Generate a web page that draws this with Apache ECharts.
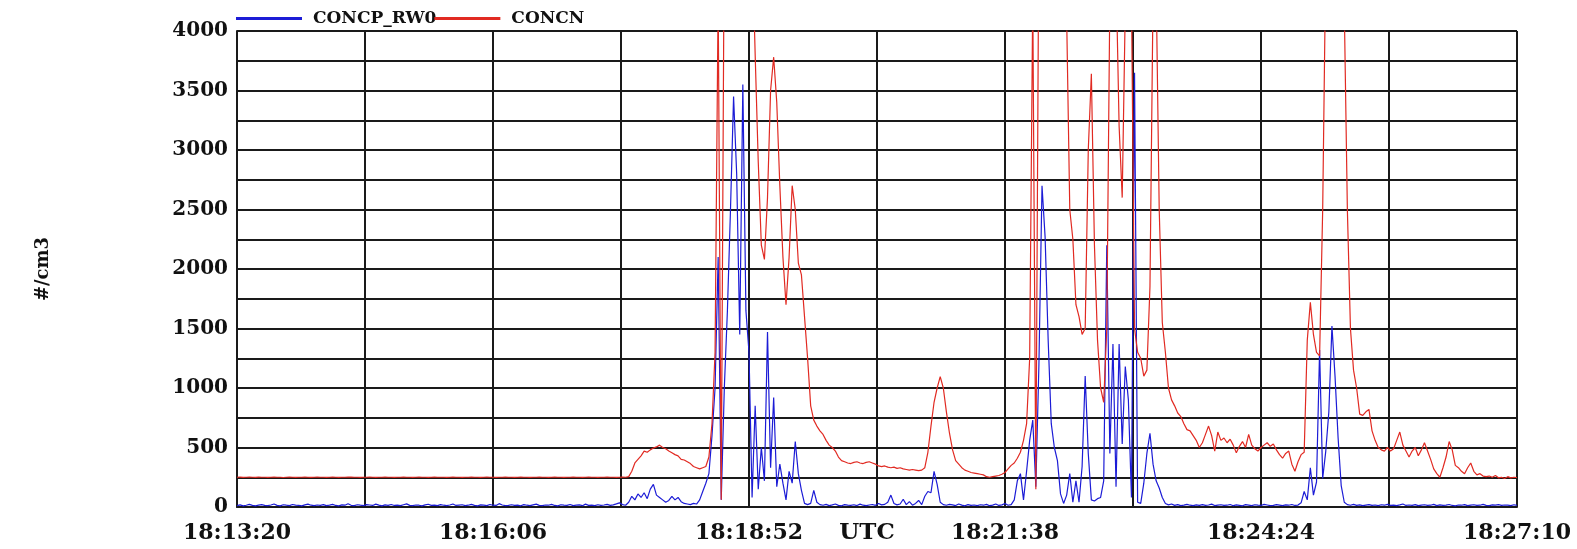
<!DOCTYPE html>
<html>
<head>
<meta charset="utf-8">
<script src="https://cdn.jsdelivr.net/npm/echarts@6/dist/echarts.min.js"></script>
<style>
  html, body { margin: 0; padding: 0; background: #ffffff; }
  #chart { width: 1577px; height: 549px; }
</style>
</head>
<body>
<div id="chart"></div>
<script>
// Particle concentrations, one sample every 2 s starting at 18:13:20 UTC
const seriesNames = ['CONCP_RW0', 'CONCN'];
const SAMPLE_STEP_S = 2;
const xTickLabels = ['18:13:20', '18:16:06', '18:18:52', '18:21:38', '18:24:24', '18:27:10'];
const xLabelEvery = 166; // seconds between labelled ticks

const concpRw0 = [
  12, 18, 10, 15, 22, 14, 9, 16, 20, 13,
  11, 17, 25, 14, 10, 19, 15, 12, 21, 16,
  13, 9, 18, 24, 15, 11, 17, 14, 20, 12,
  16, 22, 13, 10, 18, 15, 27, 14, 11, 19,
  15, 12, 20, 17, 13, 24, 16, 10, 18, 14,
  21, 13, 15, 11, 19, 26, 14, 12, 17, 15,
  10, 18, 23, 14, 16, 12, 20, 15, 11, 17,
  25, 13, 16, 19, 12, 15, 22, 14, 10, 18,
  16, 12, 21, 15, 13, 28, 17, 11, 14, 19,
  13, 16, 10, 20, 15, 12, 18, 24, 14, 11,
  17, 15, 22, 13, 10, 19, 16, 14, 21, 12,
  15, 18, 11, 24, 14, 16, 12, 19, 13, 17,
  22, 14, 18, 26, 35, 20, 15, 40, 90, 60,
  110, 80, 120, 70, 150, 190, 100, 80, 60, 40,
  55, 90, 60, 80, 45, 30, 25, 20, 30, 25,
  60, 130, 200, 280, 600, 1000, 2100, 60, 1000, 1650,
  2500, 3450, 2800, 1450, 3550, 1650, 1300, 80, 850, 150,
  500, 220, 1470, 330, 920, 170, 360, 200, 60, 300,
  200, 550, 280, 140, 30, 20, 30, 140, 40, 20,
  15, 22, 12, 18, 25, 14, 10, 20, 16, 13,
  19, 12, 24, 15, 11, 17, 21, 14, 30, 18,
  22, 40, 100, 30, 18, 25, 65, 20, 45, 15,
  30, 55, 20, 90, 130, 120, 300, 190, 40, 20,
  15, 22, 18, 12, 25, 16, 10, 20, 14, 17,
  12, 19, 15, 22, 11, 16, 25, 13, 18, 30,
  15, 20, 60, 220, 280, 60, 300, 560, 730, 170,
  1200, 2700, 2270, 1400, 700, 500, 390, 110, 30, 100,
  280, 40, 220, 40, 340, 1100, 450, 60, 50, 70,
  80, 220, 2200, 450, 1370, 170, 1370, 530, 1180, 900,
  80, 3650, 40, 30, 200, 450, 620, 360, 220, 160,
  80, 30, 18, 25, 14, 20, 12, 16, 22, 15,
  11, 18, 14, 20, 13, 17, 24, 12, 16, 19,
  13, 15, 21, 11, 18, 14, 10, 20, 16, 12,
  19, 15, 13, 22, 17, 11, 14, 20, 16, 12,
  18, 15, 21, 13, 16, 35, 130, 60, 330, 100,
  210, 1320, 240, 470, 800, 1520, 1100, 580, 180, 40,
  20, 15, 22, 14, 18, 12, 16, 20, 13, 17,
  11, 19, 15, 22, 14, 16, 12, 18, 25, 13,
  17, 14, 20, 11, 16, 19, 13, 15, 22, 12,
  18, 14, 16, 21, 13, 10, 17, 15, 20, 12,
  16, 19, 13, 15, 22, 14, 11, 18, 16, 20,
  13, 17, 15, 12, 19, 14
];

const concn = [
  250, 251, 249, 250, 252, 250, 249, 251, 250, 250,
  249, 250, 251, 250, 250, 248, 250, 251, 250, 249,
  250, 250, 252, 250, 249, 250, 251, 250, 250, 249,
  250, 251, 250, 249, 250, 250, 252, 251, 250, 250,
  249, 250, 250, 251, 250, 249, 250, 250, 251, 250,
  250, 249, 250, 250, 251, 250, 250, 249, 250, 251,
  250, 250, 249, 250, 251, 250, 250, 250, 249, 250,
  251, 250, 250, 249, 250, 250, 251, 250, 250, 249,
  250, 251, 250, 250, 249, 250, 250, 251, 250, 250,
  249, 250, 251, 250, 250, 249, 250, 250, 251, 250,
  250, 249, 250, 251, 250, 250, 249, 250, 250, 251,
  250, 250, 249, 250, 251, 250, 250, 249, 250, 250,
  251, 250, 250, 249, 250, 252, 250, 255, 300, 370,
  400, 430, 470, 460, 480, 495, 505, 520, 500, 490,
  470, 455, 440, 430, 400, 395, 380, 365, 340, 330,
  320, 330, 340, 420, 700, 1300, 4300, 60, 5000, 5600,
  6000, 6200, 5800, 6100, 5900, 5500, 5200, 4800, 3800, 2900,
  2200, 2080, 2600, 3500, 3780, 3400, 2700, 2100, 1700, 2100,
  2700, 2500, 2050, 1950, 1600, 1250, 850, 730, 680, 640,
  610, 560, 520, 500, 470, 420, 390, 380, 370, 365,
  375, 380, 370, 365, 375, 380, 370, 360, 345, 340,
  345, 335, 330, 335, 325, 330, 320, 315, 310, 315,
  310, 305, 310, 330, 460, 680, 880, 1000, 1095, 1000,
  800, 620, 480, 390, 360, 330, 310, 300, 290, 285,
  280, 275, 270, 255, 250, 255, 260, 265, 275, 290,
  320, 350, 370, 410, 460, 560, 700, 1250, 4300, 150,
  5000, 5200, 5800, 6000, 5600, 5900, 6100, 5700, 5200, 4100,
  2500, 2250, 1700, 1600, 1450, 1500, 3000, 3640, 2200, 1400,
  1000, 880, 1500, 4300, 5000, 4500, 3200, 2600, 4200, 5000,
  4300, 1500, 1300, 1250, 1100, 1150, 1850, 4300, 4400, 2500,
  1550, 1300, 1000, 900, 850, 790, 760, 700, 650, 640,
  600, 560, 500, 540, 610, 680, 600, 470, 630, 560,
  580, 540, 570, 520, 455, 510, 550, 500, 610, 520,
  490, 470, 500, 520, 540, 510, 530, 480, 440, 410,
  450, 470, 360, 300, 380, 440, 460, 1400, 1720, 1450,
  1300, 1270, 2500, 4600, 5400, 6000, 5800, 5500, 5000, 4200,
  2500, 1500, 1150, 1000, 780, 770, 800, 820, 640, 560,
  500, 480, 470, 500, 470, 490, 560, 630, 520, 470,
  420, 470, 500, 430, 480, 540, 470, 400, 320, 280,
  250, 330, 420, 550, 480, 350, 330, 300, 280, 330,
  370, 300, 270, 280, 260, 255, 260, 250, 265, 245,
  250, 240, 255, 245, 250, 248
];

const FONT = "'DejaVu Serif', 'Liberation Serif', serif";
const BLUE = '#1c1cd6';
const RED = '#e12a22';
const GRID_INK = '#1a1a1a';

// Pair each value with seconds elapsed since the first sample
function toPairs(values) {
  return values.map(function (v, i) { return [i * SAMPLE_STEP_S, v]; });
}

const chart = echarts.init(document.getElementById('chart'), null, { renderer: 'canvas' });

chart.setOption({
  backgroundColor: '#ffffff',
  animation: false,
  legend: {
    data: seriesNames,
    left: 236,
    top: 10,
    padding: 0,
    icon: 'rect',
    itemWidth: 66,
    itemHeight: 3,
    itemGap: -2,
    textStyle: {
      fontFamily: FONT,
      fontWeight: 'bold',
      fontSize: 17,
      color: '#111',
      padding: [0, 0, 0, 6]
    }
  },
  grid: {
    left: 237,
    right: 60,
    top: 31,
    bottom: 42,
    containLabel: false,
    outerBoundsMode: 'none'
  },
  xAxis: {
    type: 'value',
    min: 0,
    max: 830,
    interval: 83,
    axisLine: { show: true, onZero: false, lineStyle: { color: GRID_INK, width: 2 } },
    axisTick: { show: false },
    splitLine: { show: true, lineStyle: { color: GRID_INK, width: 2 } },
    axisLabel: {
      margin: 15,
      fontFamily: FONT,
      fontWeight: 'bold',
      fontSize: 22,
      color: '#111',
      showMinLabel: true,
      showMaxLabel: true,
      formatter: function (v) {
        if (v % xLabelEvery !== 0) return '';
        return xTickLabels[v / xLabelEvery] || '';
      }
    },
    name: 'UTC',
    nameLocation: 'middle',
    nameGap: 15,
    nameMoveOverlap: false,
    nameTextStyle: {
      fontFamily: FONT,
      fontWeight: 'bold',
      fontSize: 23,
      color: '#111',
      verticalAlign: 'top',
      padding: [0, 20, 0, 0]
    }
  },
  yAxis: {
    type: 'value',
    min: 0,
    max: 4000,
    interval: 250,
    axisLine: { show: true, lineStyle: { color: GRID_INK, width: 2 } },
    axisTick: { show: false },
    splitLine: { show: true, lineStyle: { color: GRID_INK, width: 2 } },
    axisLabel: {
      margin: 9,
      fontFamily: FONT,
      fontWeight: 'bold',
      fontSize: 20,
      color: '#111',
      formatter: function (v) { return v % 500 === 0 ? String(v) : ''; }
    },
    name: '#/cm3',
    nameLocation: 'middle',
    nameGap: 185,
    nameMoveOverlap: false,
    nameTextStyle: {
      fontFamily: FONT,
      fontWeight: 'bold',
      fontSize: 18,
      color: '#111'
    }
  },
  series: [
    {
      name: seriesNames[0],
      type: 'line',
      data: toPairs(concpRw0),
      showSymbol: false,
      clip: true,
      lineStyle: { color: BLUE, width: 1.2 },
      itemStyle: { color: BLUE }
    },
    {
      name: seriesNames[1],
      type: 'line',
      data: toPairs(concn),
      showSymbol: false,
      clip: true,
      lineStyle: { color: RED, width: 1.2 },
      itemStyle: { color: RED }
    }
  ]
});
</script>
</body>
</html>
